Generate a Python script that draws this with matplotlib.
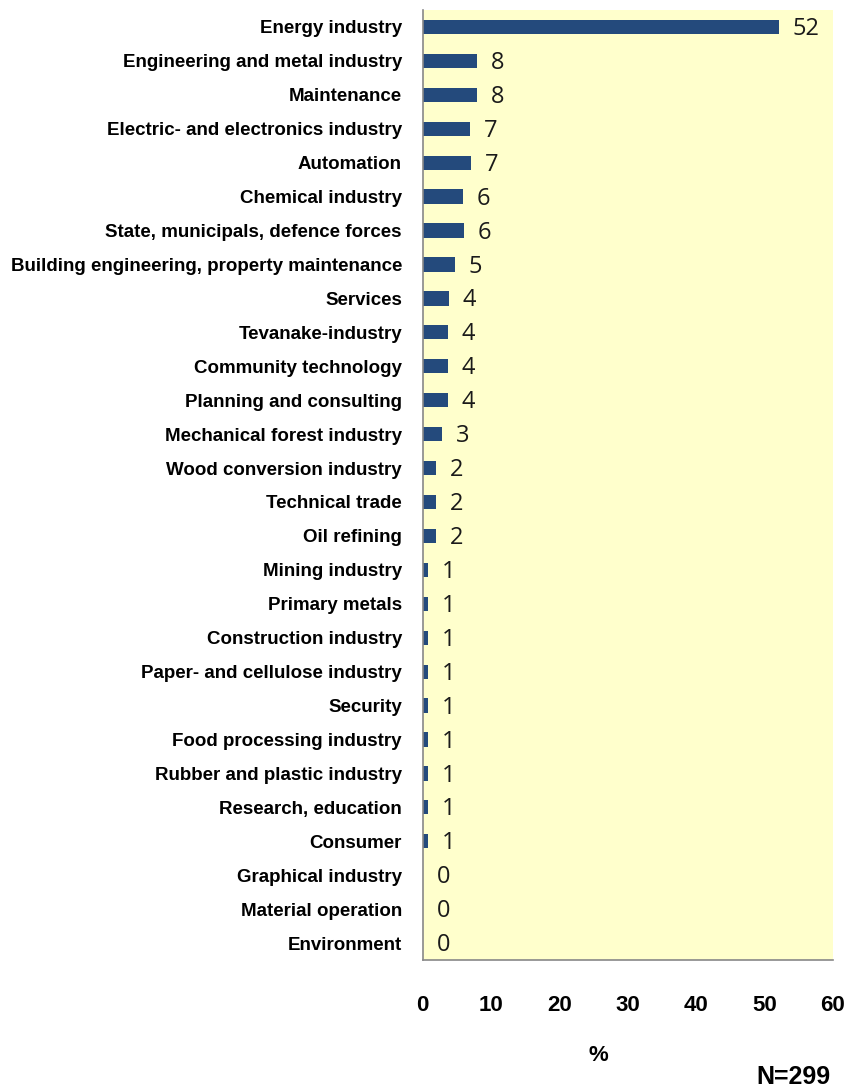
import matplotlib.pyplot as plt

# Share of respondents by industry (%), bar lengths
industries = [
    "Energy industry",
    "Engineering and metal industry",
    "Maintenance",
    "Electric- and electronics industry",
    "Automation",
    "Chemical industry",
    "State, municipals, defence forces",
    "Building engineering, property maintenance",
    "Services",
    "Tevanake-industry",
    "Community technology",
    "Planning and consulting",
    "Mechanical forest industry",
    "Wood conversion industry",
    "Technical trade",
    "Oil refining",
    "Mining industry",
    "Primary metals",
    "Construction industry",
    "Paper- and cellulose industry",
    "Security",
    "Food processing industry",
    "Rubber and plastic industry",
    "Research, education",
    "Consumer",
    "Graphical industry",
    "Material operation",
    "Environment",
]
shares = [52.1, 7.9, 7.9, 6.9, 7.0, 5.9, 6.0, 4.7, 3.8, 3.7, 3.7, 3.7, 2.8,
          1.9, 1.9, 1.9, 0.75, 0.75, 0.75, 0.75, 0.75, 0.75, 0.75, 0.75, 0.75,
          0.0, 0.0, 0.0]
shown = [52, 8, 8, 7, 7, 6, 6, 5, 4, 4, 4, 4, 3, 2, 2, 2, 1, 1, 1, 1, 1, 1,
         1, 1, 1, 0, 0, 0]
x_ticks = [0, 10, 20, 30, 40, 50, 60]

LABEL_FONT = ["Liberation Sans Narrow", "Liberation Sans", "DejaVu Sans"]

fig = plt.figure(figsize=(8.49, 10.88), dpi=100)
ax = fig.add_axes([0.498, 0.1176, 0.483, 0.8732])
ax.set_facecolor("#FFFFCC")

pos = list(range(len(industries)))
ax.barh(pos, shares, height=0.42, color="#244A7C")

for y, v, s in zip(pos, shares, shown):
    ax.annotate(str(s), (v, y), xytext=(10, -1.5), textcoords="offset points",
                ha="left", va="center", fontsize=17, color="#1A1A1A",
                family=["Open Sans", "DejaVu Sans"])

ax.set_ylim(len(industries) - 0.5, -0.5)
ax.set_xlim(0, 60)
ax.set_yticks(pos)
ax.set_yticklabels(industries, family=LABEL_FONT, fontweight="bold", fontsize=13.5)
ax.set_xticks(x_ticks)
ax.set_xticklabels([str(t) for t in x_ticks], family=LABEL_FONT,
                   fontweight="bold", fontsize=16)
ax.tick_params(axis="y", length=0, pad=15)
ax.tick_params(axis="x", length=0, pad=25)

for side in ["top", "right"]:
    ax.spines[side].set_visible(False)
for side in ["left", "bottom"]:
    ax.spines[side].set_color("#888888")
    ax.spines[side].set_linewidth(1.2)

fig.text(0.705, 0.030, "%", ha="center", va="center", fontsize=16,
         fontweight="bold", family=LABEL_FONT)
fig.text(0.935, 0.010, "N=299", ha="center", va="center", fontsize=18,
         fontweight="bold", family=LABEL_FONT)

fig.savefig("out.png", dpi=100)
